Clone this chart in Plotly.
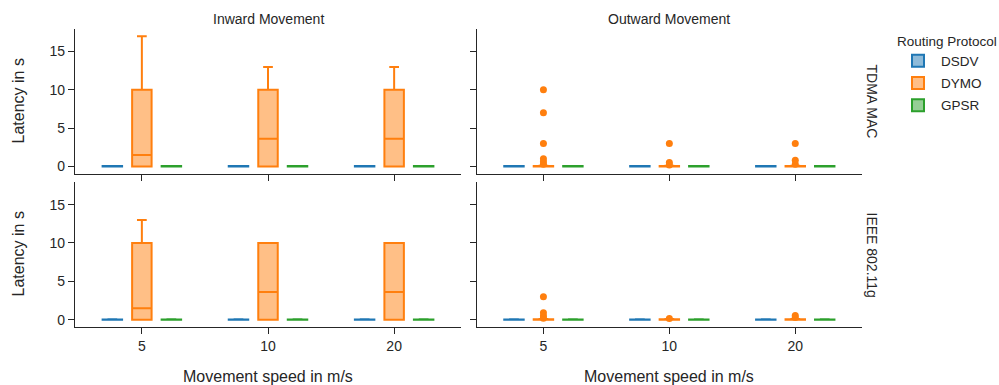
import plotly.graph_objects as go

# ---------------- data ----------------
speeds = ["5", "10", "20"]
protocols = ["DSDV", "DYMO", "GPSR"]
colors = {"DSDV": "#1f77b4", "DYMO": "#ff7f0e", "GPSR": "#2ca02c"}
fills = {"DSDV": "rgba(31,119,180,0.5)", "DYMO": "rgba(255,127,14,0.5)", "GPSR": "rgba(44,160,44,0.5)"}
columns = ["Inward Movement", "Outward Movement"]
rows = ["TDMA MAC", "IEEE 802.11g"]

# near-zero protocols (DSDV, GPSR) in all panels
zero_q1 = [0, 0, 0]
zero_median = [0, 0, 0]
zero_q3 = [0.04, 0.04, 0.04]
zero_low = [0, 0, 0]
zero_high = [0.05, 0.05, 0.05]

# DYMO, Inward, TDMA MAC
in_tdma_q1 = [0, 0, 0]
in_tdma_median = [1.5, 3.6, 3.6]
in_tdma_q3 = [10, 10, 10]
in_tdma_low = [0, 0, 0]
in_tdma_high = [17, 13, 13]

# DYMO, Inward, IEEE 802.11g
in_wifi_q1 = [0, 0, 0]
in_wifi_median = [1.5, 3.6, 3.6]
in_wifi_q3 = [10, 10, 10]
in_wifi_low = [0, 0, 0]
in_wifi_high = [13, 10, 10]

# DYMO, Outward, TDMA MAC
out_tdma_q1 = [0, 0, 0]
out_tdma_median = [0.02, 0.02, 0.02]
out_tdma_q3 = [0.05, 0.05, 0.05]
out_tdma_low = [0, 0, 0]
out_tdma_high = [0.08, 0.08, 0.08]
out_tdma_outliers = [[10, 7, 3, 1, 0.6, 0.3], [3, 0.5, 0.2], [3, 0.8, 0.3]]

# DYMO, Outward, IEEE 802.11g
out_wifi_q1 = [0, 0, 0]
out_wifi_median = [0.02, 0.02, 0.02]
out_wifi_q3 = [0.05, 0.05, 0.05]
out_wifi_low = [0, 0, 0]
out_wifi_high = [0.08, 0.08, 0.08]
out_wifi_outliers = [[3, 0.9, 0.5, 0.2], [0.15], [0.55, 0.3]]

y_ticks = [0, 5, 10, 15]

# ---------------- layout geometry (pixels) ----------------
W, H = 999, 385
ML, MR, MT, MB = 75, 137, 29, 58
PW, PH = W - ML - MR, H - MT - MB

def px_x(px):
    return (px - ML) / PW

def px_y(py):
    return 1 - (py - MT) / PH

TXT = "#262626"
FONT = "Liberation Sans, Arial, sans-serif"

fig = go.Figure()

dymo = {
    (0, 0): (in_tdma_q1, in_tdma_median, in_tdma_q3, in_tdma_low, in_tdma_high, None),
    (1, 0): (in_wifi_q1, in_wifi_median, in_wifi_q3, in_wifi_low, in_wifi_high, None),
    (0, 1): (out_tdma_q1, out_tdma_median, out_tdma_q3, out_tdma_low, out_tdma_high, out_tdma_outliers),
    (1, 1): (out_wifi_q1, out_wifi_median, out_wifi_q3, out_wifi_low, out_wifi_high, out_wifi_outliers),
}

axis_ids = {(0, 0): ("x", "y"), (0, 1): ("x2", "y2"), (1, 0): ("x3", "y3"), (1, 1): ("x4", "y4")}

for (r, c), (xa, ya) in axis_ids.items():
    for p in protocols:
        if p == "DYMO":
            q1, med, q3, lo, hi, outl = dymo[(r, c)]
        else:
            q1, med, q3, lo, hi, outl = zero_q1, zero_median, zero_q3, zero_low, zero_high, None
        kw = {}
        if outl is not None:
            kw["y"] = outl
            kw["boxpoints"] = "outliers"
            kw["jitter"] = 0
            kw["pointpos"] = 0
        else:
            kw["boxpoints"] = False
        fig.add_trace(go.Box(
            x=speeds, q1=q1, median=med, q3=q3, lowerfence=lo, upperfence=hi,
            name=p, legendgroup=p, showlegend=(r == 0 and c == 0),
            offsetgroup=p, alignmentgroup=f"panel{r}{c}",
            line=dict(color=colors[p], width=2), fillcolor=fills[p],
            marker=dict(color=colors[p], size=7, line=dict(width=0)),
            whiskerwidth=0.5, xaxis=xa, yaxis=ya, hoverinfo="skip", **kw))

# domains
xdom_left = [0, px_x(461)]
xdom_right = [px_x(476.7), 1]
ydom_top = [px_y(173.7), 1]
ydom_bot = [0, px_y(182)]

ax_common = dict(showline=True, linecolor=TXT, linewidth=1.3, ticks="outside", ticklen=6,
                 tickcolor=TXT, tickwidth=1.3, showgrid=False, zeroline=False,
                 tickfont=dict(size=14, color=TXT, family=FONT))

xr = [-0.53, 2.53]
yr = [-0.95, 17.95]

layout_axes = {}
for (r, c), (xa, ya) in axis_ids.items():
    xname = "xaxis" if xa == "x" else "xaxis" + xa[1:]
    yname = "yaxis" if ya == "y" else "yaxis" + ya[1:]
    layout_axes[xname] = dict(ax_common, type="category", categoryorder="array", categoryarray=speeds,
                              range=xr, domain=xdom_left if c == 0 else xdom_right,
                              anchor=ya, showticklabels=(r == 1), automargin=False)
    layout_axes[yname] = dict(ax_common, range=yr, tickvals=y_ticks,
                              domain=ydom_top if r == 0 else ydom_bot,
                              anchor=xa, showticklabels=(c == 0), automargin=False)

annotations = []
# column titles
for c, title in enumerate(columns):
    cx = px_x(268) if c == 0 else px_x(669.3)
    annotations.append(dict(text=title, x=cx, y=px_y(19.5), xref="paper", yref="paper",
                            showarrow=False, xanchor="center", yanchor="middle",
                            font=dict(size=14, color=TXT, family=FONT)))
# row labels
for r, title in enumerate(rows):
    cy = px_y(101.5) if r == 0 else px_y(254.5)
    annotations.append(dict(text=title, x=px_x(872), y=cy, xref="paper", yref="paper",
                            showarrow=False, xanchor="center", yanchor="middle", textangle=90,
                            font=dict(size=14, color=TXT, family=FONT)))
# y titles
for r in range(2):
    cy = px_y(101.5) if r == 0 else px_y(254.5)
    annotations.append(dict(text="Latency in s", x=px_x(18), y=cy, xref="paper", yref="paper",
                            showarrow=False, xanchor="center", yanchor="middle", textangle=-90,
                            font=dict(size=16, color=TXT, family=FONT)))
# x titles
for c in range(2):
    cx = px_x(268) if c == 0 else px_x(669.3)
    annotations.append(dict(text="Movement speed in m/s", x=cx, y=px_y(376), xref="paper", yref="paper",
                            showarrow=False, xanchor="center", yanchor="middle",
                            font=dict(size=16, color=TXT, family=FONT)))

fig.update_layout(
    width=W, height=H, autosize=False,
    margin=dict(l=ML, r=MR, t=MT, b=MB, pad=0, autoexpand=False),
    paper_bgcolor="white", plot_bgcolor="white",
    boxmode="group", boxgap=0.298, boxgroupgap=0.34,
    font=dict(family=FONT, color=TXT),
    legend=dict(title=dict(text="Routing Protocol", font=dict(size=13.5, color=TXT, family=FONT)),
                font=dict(size=13.5, color=TXT, family=FONT),
                x=px_x(895), y=px_y(28), xanchor="left", yanchor="top",
                xref="paper", yref="paper", bgcolor="rgba(0,0,0,0)", borderwidth=0,
                traceorder="grouped", tracegroupgap=1.6, itemwidth=36),
    annotations=annotations,
    showlegend=True,
    **layout_axes,
)

fig.write_html("out.html", post_script="document.body.style.margin='0';",
               config={"displayModeBar": False})
